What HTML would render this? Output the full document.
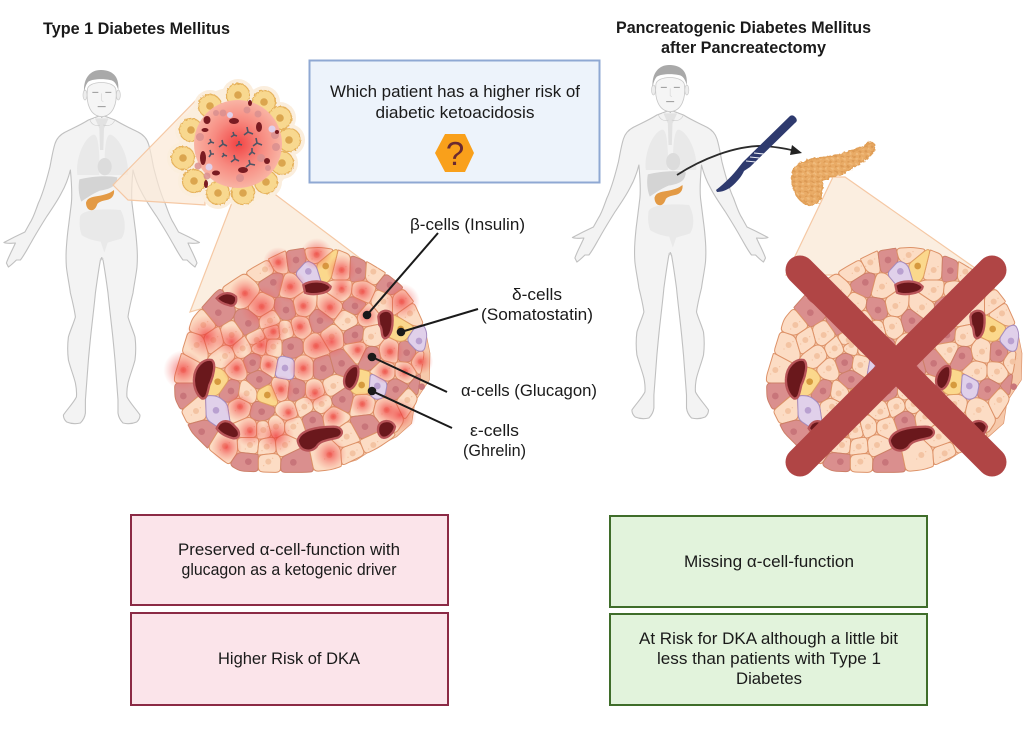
<!DOCTYPE html>
<html lang="en"><head><meta charset="utf-8"><title>Type 1 vs Pancreatogenic Diabetes</title>
<style>
html,body{margin:0;padding:0;background:#fff}
svg{display:block}
text{font-family:"Liberation Sans",sans-serif;font-size:16.5px;fill:#1a1a1a;text-anchor:middle}
.b{font-weight:bold}
.P{fill:#fcdcc4;stroke:#dd9268;stroke-width:3;stroke-linejoin:round}
.R{fill:#da8f8e;stroke:#cd7f68;stroke-width:3;stroke-linejoin:round}
.Y{fill:#fbd88c;stroke:#e0a060;stroke-width:3;stroke-linejoin:round}
.V{fill:#e0d0ea;stroke:#a58cc0;stroke-width:3;stroke-linejoin:round}
.np{fill:#f3c3a2}.nr{fill:#c8757a}.ny{fill:#d69a3e}.nv{fill:#b9a0d0}
</style></head><body>
<svg xmlns="http://www.w3.org/2000/svg" width="1024" height="750" viewBox="0 0 1024 750">
<defs>
<radialGradient id="gl"><stop offset="0" stop-color="#ee2c30" stop-opacity=".72"/><stop offset=".5" stop-color="#f04a48" stop-opacity=".34"/><stop offset="1" stop-color="#f46a60" stop-opacity="0"/></radialGradient>
<radialGradient id="ctr"><stop offset="0" stop-color="#f24444"/><stop offset=".55" stop-color="#f78a80"/><stop offset="1" stop-color="#f9b4a4"/></radialGradient>
<pattern id="lob" width="6" height="5" patternUnits="userSpaceOnUse"><rect width="6" height="5" fill="#e9ab66"/><ellipse cx="2" cy="1.5" rx="1.5" ry="1" fill="#dc9a54"/><ellipse cx="4.6" cy="3.8" rx="1.5" ry="1" fill="#f0bb7c"/></pattern>
<filter id="wob" x="-10%" y="-10%" width="120%" height="120%"><feTurbulence type="fractalNoise" baseFrequency=".3" numOctaves="2" seed="4"/><feDisplacementMap in="SourceGraphic" scale="4"/></filter>
<filter id="wob2" x="-5%" y="-5%" width="110%" height="110%"><feTurbulence type="fractalNoise" baseFrequency=".5" numOctaves="1" seed="7"/><feDisplacementMap in="SourceGraphic" scale="3"/></filter>
<g id="half">
<path d="M101.7,115 L115,120 C123,125 130,128 138,132 C144,135 147,139 148.5,144 C151,152 152,160 153.5,167 C156,177 158,184 160,190 C162,196 163,199 165,203 C168,211 170,218 173.5,223 L178.5,232 C185,235 193,239 199.5,242.5 C196,244 191,243 188,243 C191,250 195,257 197,263 L195,267 C192,265 189,262 187,260 L183,260 C179,255 175,247 172,242 C167,233 162,225 157,217 C151,208 146,201 142,193 C138,186 135,178 133,170 C132,181 131,192 132,203 C133,211 134,219 135,227 C136,234 136.5,240 137,247 C137.5,254 137.5,260 137,267 C136,276 134,285 133,293 C131,301 129,309 128,317 C130,324 133,330 135,337 C136,345 136,352 135,360 C133,368 130,375 128,383 C127,388 126.5,392 127,397 C130,403 136,409 140,415 C140,418 139,420 136.7,422 C132,424 127,424 123,423 C120,420 118.5,417 118,413 C118,408 118,404 118,400 C117,387 116,373 115,360 C114,349 113,338 111.7,327 C110.5,316 109,304 108,293 C106.5,282 105,271 103,260 L101.7,258 Z" fill="#f3f3f3" stroke="#c0c0c0" stroke-width="1.1" stroke-linejoin="round"/>
</g>
<g id="man">
<use href="#half"/><use href="#half" transform="translate(203.4,0) scale(-1,1)"/>
<rect x="94" y="118" width="15" height="139" fill="#f3f3f3"/>
<g transform="translate(0,60) scale(.33333)">
<path d="M232,345 C226,300 250,235 280,224 C292,222 296,250 298,290 L298,345 Z M383,345 C389,300 362,235 332,224 C320,222 316,250 314,290 L314,345 Z" fill="#e9e9e9"/>
<path d="M285,175 L326,175 L312,205 L310,270 L300,270 L298,205 Z" fill="#e2e2e2"/>
<ellipse cx="314" cy="320" rx="21" ry="26" fill="#dcdcdc"/>
<path d="M238,358 C270,350 320,345 352,352 C350,375 340,385 300,392 C285,398 265,410 244,425 C236,405 234,380 238,358 Z" fill="#d4d4d4"/>
<path d="M240,470 C245,450 300,445 362,450 C378,480 378,515 365,535 C345,542 330,545 323,548 L313,578 L302,545 C280,542 258,535 245,525 C238,505 238,490 240,470 Z" fill="#e9e9e9"/>
<path d="M258,428 C262,413 276,411 294,408 C312,405 330,400 342,390 C344,405 336,417 320,420 C305,423 297,426 292,432 C288,444 282,453 270,450 C262,448 258,438 258,428 Z" fill="#e39a45"/>
<path d="M300,595 L305,600 L310,595 M270,180 C275,195 290,200 300,195 M345,180 C338,195 325,200 310,195" stroke="#cecece" stroke-width="2" fill="none"/>
<path d="M262,90 C258,130 270,168 305,170 C340,168 352,130 348,90 C345,60 262,60 262,90 Z" fill="#f5f5f5" stroke="#c8c8c8" stroke-width="2.5"/>
<ellipse cx="255" cy="105" rx="6" ry="15" fill="#ededed" stroke="#cacaca" stroke-width="2"/><ellipse cx="355" cy="105" rx="6" ry="15" fill="#ededed" stroke="#cacaca" stroke-width="2"/>
<path d="M252,95 C250,50 275,28 305,30 C335,32 358,45 355,90 C350,75 345,62 330,60 C310,56 280,56 265,65 C258,72 255,85 252,95 Z" fill="#a9a9a9"/>
<path d="M277,97 h18 M316,97 h18 M293,140 h24" stroke="#999" stroke-width="3" fill="none"/>
<path d="M305,100 v22 l5,3" stroke="#d6d6d6" stroke-width="2" fill="none"/>
</g>
</g>
<g id="cells"><polygon class="P" points="300,90 400,60 505,65 640,130 725,215 780,370 778,450 725,580 560,690 410,722 210,718 70,605 20,505 38,375 140,190"/></g>
<g id="top">
<g fill="#6a181c" stroke="#b85458" stroke-width="7">
<path d="M400,165 C420,150 465,150 482,170 C480,190 430,198 405,188 Z"/>
<path d="M140,205 C155,188 180,183 198,200 C202,220 190,232 175,225 C160,222 148,215 140,205 Z"/>
<path d="M72,445 C74,410 100,385 125,390 C140,400 130,440 118,465 C112,490 110,510 95,505 C80,495 70,470 72,445 Z"/>
<path d="M625,260 C628,240 660,235 667,255 C670,285 665,320 645,325 C630,320 640,295 628,285 Z"/>
<path d="M523,445 C528,420 550,402 563,410 C570,430 560,470 540,478 C525,475 520,462 523,445 Z"/>
<path d="M140,595 C150,570 175,565 195,590 C212,605 212,625 190,625 C170,620 150,610 140,595 Z"/>
<path d="M383,632 C390,600 440,590 490,590 C515,590 525,610 505,622 C480,630 450,630 440,650 C425,668 390,668 383,632 Z"/>
<path d="M625,590 C630,570 665,565 675,590 C672,610 650,628 635,622 C625,615 622,605 625,590 Z"/>
</g>
</g>
</defs>
<rect width="1024" height="750" fill="#fff"/>

<!-- left figure -->
<use href="#man"/>
<polygon points="113,185 203,93 205,205 128,200" fill="#fbe8d6" fill-opacity=".7" stroke="#f5c8a4" stroke-width="1.2"/>

<!-- left cone -->
<polygon points="233,200 190,312 365,262 272,192" fill="#fbeee0" stroke="#f5c8a4" stroke-width="1.2"/>

<!-- small islet -->
<g>
<circle cx="237" cy="145" r="58" fill="#fbeedd"/>
<g fill="#fbeedd"><circle cx="210" cy="106" r="16"/><circle cx="238" cy="95" r="16"/><circle cx="264" cy="102" r="16"/><circle cx="280" cy="118" r="16"/><circle cx="289" cy="140" r="16"/><circle cx="282" cy="163" r="16"/><circle cx="266" cy="182" r="16"/><circle cx="243" cy="193" r="16"/><circle cx="218" cy="193" r="16"/><circle cx="194" cy="181" r="16"/><circle cx="183" cy="158" r="16"/><circle cx="191" cy="130" r="16"/></g>
<g fill="#f8d88f" stroke="#e6b25c" stroke-width="1.2" filter="url(#wob2)"><circle cx="210" cy="106" r="11.5"/><circle cx="238" cy="95" r="11.5"/><circle cx="264" cy="102" r="11.5"/><circle cx="280" cy="118" r="11.5"/><circle cx="289" cy="140" r="11.5"/><circle cx="282" cy="163" r="11.5"/><circle cx="266" cy="182" r="11.5"/><circle cx="243" cy="193" r="11.5"/><circle cx="218" cy="193" r="11.5"/><circle cx="194" cy="181" r="11.5"/><circle cx="183" cy="158" r="11.5"/><circle cx="191" cy="130" r="11.5"/></g>
<g fill="#dba54e"><circle cx="210" cy="106" r="3.8"/><circle cx="238" cy="95" r="3.8"/><circle cx="264" cy="102" r="3.8"/><circle cx="280" cy="118" r="3.8"/><circle cx="289" cy="140" r="3.8"/><circle cx="282" cy="163" r="3.8"/><circle cx="266" cy="182" r="3.8"/><circle cx="243" cy="193" r="3.8"/><circle cx="218" cy="193" r="3.8"/><circle cx="194" cy="181" r="3.8"/><circle cx="183" cy="158" r="3.8"/><circle cx="191" cy="130" r="3.8"/></g>
<circle cx="238" cy="144" r="44" fill="url(#ctr)"/>
<g fill="#d98f8f" fill-opacity=".85"><circle cx="223" cy="113" r="3.5"/><circle cx="247" cy="110" r="3.5"/><circle cx="258" cy="114" r="3.5"/><circle cx="275" cy="135" r="4"/><circle cx="276" cy="147" r="4"/><circle cx="261" cy="158" r="4"/><circle cx="240" cy="178" r="4"/><circle cx="207" cy="176" r="3.5"/><circle cx="198" cy="166" r="3.5"/><circle cx="200" cy="137" r="4"/><circle cx="216" cy="113" r="3"/><circle cx="268" cy="168" r="3"/></g>
<g fill="#e0d0ea"><circle cx="230" cy="115" r="3"/><circle cx="272" cy="129" r="3.5"/><circle cx="209" cy="167" r="3.5"/></g>
<g fill="#7a1c22"><ellipse cx="234" cy="121" rx="5" ry="3"/><ellipse cx="207" cy="120" rx="3.5" ry="4"/><ellipse cx="205" cy="130" rx="3.5" ry="2"/><ellipse cx="203" cy="158" rx="3" ry="7"/><ellipse cx="216" cy="173" rx="4" ry="2.5"/><ellipse cx="243" cy="170" rx="5" ry="3"/><ellipse cx="259" cy="127" rx="3" ry="5"/><ellipse cx="267" cy="161" rx="3" ry="3"/><ellipse cx="250" cy="103" rx="2" ry="3"/><ellipse cx="206" cy="184" rx="2" ry="4"/><circle cx="277" cy="132" r="2"/></g>
<g stroke="#4f5565" stroke-width="1.6" fill="none"><path d="M233,132 l1,3 l-3,2 M234,135 l3,1"/><path d="M222,140 l1,4 l-4,3 M223,144 l4,2"/><path d="M247,127 l1,5 l-4,3 M248,132 l5,2"/><path d="M210,139 l1,3 l-3,2 M211,142 l3,1"/><path d="M256,138 l1,5 l-4,3 M257,143 l5,2"/><path d="M239,141 l0,3 l-3,2 M239,144 l3,1"/><path d="M252,148 l0,4 l-3,3 M252,152 l3,2"/><path d="M210,150 l1,4 l-2,3 M211,154 l3,0"/><path d="M223,153 l1,2 l-2,2 M224,155 l3,1"/><path d="M234,155 l1,4 l-4,3 M235,159 l4,2"/><path d="M249,160 l1,4 l-4,3 M250,164 l5,1"/></g>
</g>

<!-- left islet -->
<g transform="translate(170,230) scale(.33333)">
<use href="#cells"/>
<g fill="url(#gl)">
<circle cx="325" cy="97" r="46"/><circle cx="440" cy="72" r="48"/><circle cx="515" cy="120" r="46"/><circle cx="362" cy="170" r="50"/><circle cx="225" cy="190" r="48"/><circle cx="275" cy="230" r="65"/><circle cx="515" cy="175" r="38"/><circle cx="578" cy="185" r="46"/><circle cx="400" cy="228" r="42"/><circle cx="480" cy="232" r="50"/><circle cx="590" cy="258" r="38"/><circle cx="695" cy="215" r="55"/><circle cx="310" cy="305" r="46"/><circle cx="390" cy="290" r="44"/><circle cx="110" cy="320" r="65"/><circle cx="185" cy="335" r="50"/><circle cx="275" cy="345" r="50"/><circle cx="485" cy="335" r="50"/><circle cx="438" cy="348" r="50"/><circle cx="563" cy="360" r="38"/><circle cx="660" cy="365" r="44"/><circle cx="752" cy="395" r="38"/><circle cx="645" cy="425" r="36"/><circle cx="705" cy="425" r="36"/><circle cx="40" cy="420" r="60"/><circle cx="200" cy="415" r="46"/><circle cx="295" cy="405" r="35"/><circle cx="400" cy="415" r="44"/><circle cx="333" cy="478" r="42"/><circle cx="435" cy="490" r="42"/><circle cx="210" cy="530" r="46"/><circle cx="355" cy="548" r="35"/><circle cx="490" cy="560" r="38"/><circle cx="577" cy="522" r="38"/><circle cx="650" cy="540" r="46"/><circle cx="690" cy="555" r="50"/><circle cx="240" cy="605" r="46"/><circle cx="318" cy="618" r="55"/><circle cx="170" cy="652" r="46"/><circle cx="480" cy="672" r="50"/>
</g>
<use href="#top"/>
</g>

<!-- labels left -->
<g stroke="#1a1a1a" stroke-width="2" fill="#1a1a1a">
<line x1="367" y1="315" x2="438" y2="233"/><circle cx="367" cy="315" r="3.3"/>
<line x1="401" y1="332" x2="478" y2="309"/><circle cx="401" cy="332" r="3.3"/>
<line x1="372" y1="357" x2="447" y2="392"/><circle cx="372" cy="357" r="3.3"/>
<line x1="372" y1="391" x2="452" y2="428"/><circle cx="372" cy="391" r="3.3"/>
</g>

<!-- right figure -->
<use href="#man" transform="translate(568.5,-5)"/>

<!-- right cone -->
<polygon points="833,177 786,275 985,275 845,177" fill="#fbeee0" stroke="#f5c8a4" stroke-width="1.2"/>

<!-- resected pancreas -->
<path d="M792,173 C795,163 805,160 815,159 C830,157 850,152 863,147 C868,142 875,141 875,147 C875,153 868,158 860,163 C848,172 835,177 823,180 C822,188 822,196 818,203 C812,207 805,205 800,200 C794,194 791,184 792,173 Z" fill="url(#lob)" stroke="#e2a058" stroke-width="1.5" filter="url(#wob)"/>

<!-- arrow and scalpel -->
<path d="M677,175 C700,160 735,145 765,146 C775,147 785,148 795,151" fill="none" stroke="#2b2b2b" stroke-width="1.8"/>
<polygon points="792,145 802,153 790,155" fill="#222"/>
<path d="M790,116 Q793,114 796,118 Q798,121 795,123 L750,167 L744,171 C742,176 737,182 731,187 C727,190 722,192 717,192 L716,190 C725,183 733,175 739,167 L743,162 Z" fill="#2e3a6e"/>
<path d="M746,161 l10,1 M750,157 l10,1 M754,153 l10,1" stroke="#eef0f6" stroke-width="1.1"/>

<!-- right islet -->
<g transform="translate(762,230) scale(.33333)">
<use href="#cells"/>
<use href="#top"/>
</g>
<g stroke="#b04545" stroke-width="29" stroke-linecap="round"><line x1="800" y1="270" x2="992" y2="462"/><line x1="992" y1="270" x2="800" y2="462"/></g>

<!-- question box -->
<rect x="309.5" y="60.5" width="290" height="122" fill="#edf3fb" stroke="#8fa8d3" stroke-width="2"/>
<text x="455" y="97" textLength="250" lengthAdjust="spacingAndGlyphs">Which patient has a higher risk of</text>
<text x="455" y="118" textLength="159" lengthAdjust="spacingAndGlyphs">diabetic ketoacidosis</text>
<polygon points="435,153 445,134 465,134 474,153 465,172 445,172" fill="#f9a01b"/>
<text x="455" y="165" style="font-size:33px;fill:#6b2a30">?</text>

<!-- titles -->
<text class="b" x="136.5" y="34" textLength="187" lengthAdjust="spacingAndGlyphs">Type 1 Diabetes Mellitus</text>
<text class="b" x="743.5" y="33" textLength="255" lengthAdjust="spacingAndGlyphs">Pancreatogenic Diabetes Mellitus</text>
<text class="b" x="743.5" y="53" textLength="165" lengthAdjust="spacingAndGlyphs">after Pancreatectomy</text>

<!-- cell labels -->
<text x="467.5" y="230" textLength="115" lengthAdjust="spacingAndGlyphs">β-cells (Insulin)</text>
<text x="537" y="300" textLength="50" lengthAdjust="spacingAndGlyphs">δ-cells</text>
<text x="537" y="320" textLength="112" lengthAdjust="spacingAndGlyphs">(Somatostatin)</text>
<text x="529" y="396" textLength="136" lengthAdjust="spacingAndGlyphs">α-cells (Glucagon)</text>
<text x="494.5" y="436" textLength="49" lengthAdjust="spacingAndGlyphs">ε-cells</text>
<text x="494.5" y="456" textLength="63" lengthAdjust="spacingAndGlyphs">(Ghrelin)</text>

<!-- bottom boxes -->
<g fill="#fbe4ea" stroke="#8b2a45" stroke-width="2"><rect x="131" y="515" width="317" height="90"/><rect x="131" y="613" width="317" height="92"/></g>
<g fill="#e2f3dc" stroke="#3f6d2a" stroke-width="2"><rect x="610" y="516" width="317" height="91"/><rect x="610" y="614" width="317" height="91"/></g>
<text x="289" y="555" textLength="222" lengthAdjust="spacingAndGlyphs">Preserved α-cell-function with</text>
<text x="289" y="575" textLength="215" lengthAdjust="spacingAndGlyphs">glucagon as a ketogenic driver</text>
<text x="289" y="664" textLength="142" lengthAdjust="spacingAndGlyphs">Higher Risk of DKA</text>
<text x="769" y="567" textLength="170" lengthAdjust="spacingAndGlyphs">Missing α-cell-function</text>
<text x="768.5" y="644" textLength="259" lengthAdjust="spacingAndGlyphs">At Risk for DKA although a little bit</text>
<text x="769" y="664" textLength="224" lengthAdjust="spacingAndGlyphs">less than patients with Type 1</text>
<text x="769" y="684" textLength="66" lengthAdjust="spacingAndGlyphs">Diabetes</text>
</svg>
<script>
(function(){
var d="325,97,P 378,90,R 440,75,P 285,118,P 515,120,P 565,122,R 610,125,P 310,157,R 360,170,P 225,190,P 275,230,P 145,248,R 235,280,R 348,240,R 400,228,P 480,232,P 555,228,R 590,258,P 660,165,R 695,215,P 720,250,P 640,215,P 515,180,P 575,185,P 300,272,P 390,290,P 450,272,R 533,272,P 100,285,P 185,315,P 80,345,P 130,330,P 310,305,P 260,330,P 345,302,P 485,320,P 555,315,R 603,320,P 362,350,R 438,348,P 218,355,P 268,345,P 310,350,P 165,378,P 248,398,R 295,405,P 200,415,P 400,415,P 460,415,R 515,400,R 563,360,P 600,378,R 660,365,P 710,368,R 752,395,P 645,425,P 705,425,P 40,420,P 268,448,R 183,483,R 333,478,P 378,483,R 435,485,P 490,468,P 230,490,P 40,498,R 78,543,P 210,530,P 275,545,R 355,545,P 403,530,P 455,522,P 517,508,R 577,522,P 677,478,R 755,470,R 650,540,P 712,510,P 585,590,R 428,570,R 490,560,P 95,605,R 165,648,P 240,600,P 240,645,P 280,600,P 318,590,P 370,590,P 290,650,P 345,645,P 235,695,R 295,695,P 370,697,R 478,675,P 548,670,P 610,645,P 530,620,P 467,108,Y 143,455,Y 292,495,Y 575,465,Y 692,297,Y 415,124,V 345,414,V 138,541,V 622,468,V 747,333,V";
var S=d.split(" ").map(function(s){var a=s.split(",");return [+a[0],+a[1],a[2]]});
var O=[[300,90],[345,68],[400,60],[450,57],[505,65],[590,100],[640,130],[690,170],[725,215],[750,270],[770,320],[780,370],[778,450],[735,515],[725,580],[680,620],[620,650],[560,690],[480,715],[410,722],[300,722],[210,718],[165,690],[115,650],[70,605],[50,565],[20,505],[18,440],[38,375],[70,270],[100,235],[140,190],[200,150],[255,115]];
function clip(poly,ax,ay,bx,by){
  var mx=(ax+bx)/2,my=(ay+by)/2,nx=bx-ax,ny=by-ay,out=[];
  function f(p){return (p[0]-mx)*nx+(p[1]-my)*ny}
  for(var i=0;i<poly.length;i++){
    var p=poly[i],q=poly[(i+1)%poly.length],fp=f(p),fq=f(q);
    if(fp<=0)out.push(p);
    if((fp<0&&fq>0)||(fp>0&&fq<0)){var t=fp/(fp-fq);out.push([p[0]+t*(q[0]-p[0]),p[1]+t*(q[1]-p[1])])}
  }
  return out;
}
function clipOutline(poly){
  var slack=5;
  for(var i=0;i<O.length&&poly.length;i++){
    var a=O[i],b=O[(i+1)%O.length],L=Math.hypot(b[0]-a[0],b[1]-a[1]),out=[];
    var f=function(p){return ((b[0]-a[0])*(p[1]-a[1])-(b[1]-a[1])*(p[0]-a[0]))/L+slack};
    for(var k=0;k<poly.length;k++){
      var p=poly[k],q=poly[(k+1)%poly.length],fp=f(p),fq=f(q);
      if(fp>=0)out.push(p);
      if(fp*fq<0){var t=fp/(fp-fq);out.push([p[0]+t*(q[0]-p[0]),p[1]+t*(q[1]-p[1])])}
    }
    poly=out;
  }
  return poly;
}
function rounded(poly){
  var n=poly.length,s="",r=14;
  for(var i=0;i<n;i++){
    var a=poly[(i+n-1)%n],b=poly[i],c=poly[(i+1)%n];
    var d1=Math.hypot(a[0]-b[0],a[1]-b[1])||1,d2=Math.hypot(c[0]-b[0],c[1]-b[1])||1;
    var t1=Math.min(r,d1*.45)/d1,t2=Math.min(r,d2*.45)/d2;
    var x1=b[0]+(a[0]-b[0])*t1,y1=b[1]+(a[1]-b[1])*t1,x2=b[0]+(c[0]-b[0])*t2,y2=b[1]+(c[1]-b[1])*t2;
    s+=(i?"L":"M")+x1.toFixed(1)+" "+y1.toFixed(1)+"Q"+b[0].toFixed(1)+" "+b[1].toFixed(1)+" "+x2.toFixed(1)+" "+y2.toFixed(1);
  }
  return s+"Z";
}
var h='<polygon points="'+O.map(function(p){return p.join(",")}).join(" ")+'" fill="#f6c9ab" stroke="#dd9268" stroke-width="2"/>',n='';
S.forEach(function(s,i){
  var poly=[[-60,-60],[860,-60],[860,800],[-60,800]];
  S.forEach(function(o,j){if(i!==j&&poly.length)poly=clip(poly,s[0],s[1],o[0],o[1])});
  poly=clipOutline(poly);
  if(poly.length<3)return;
  h+='<path class="'+s[2]+'" d="'+rounded(poly)+'"/>';
  var c={P:"np",R:"nr",Y:"ny",V:"nv"}[s[2]];
  n+='<circle class="'+c+'" cx="'+s[0]+'" cy="'+s[1]+'" r="'+(s[2]==="P"?9:10)+'"/>';
  if(s[2]==="P"){n+='<circle class="np" cx="'+(s[0]-14)+'" cy="'+(s[1]+12)+'" r="2"/><circle class="np" cx="'+(s[0]+13)+'" cy="'+(s[1]-10)+'" r="2"/>'}
});
document.getElementById("cells").innerHTML=h+n;
})();
</script>
</body></html>
